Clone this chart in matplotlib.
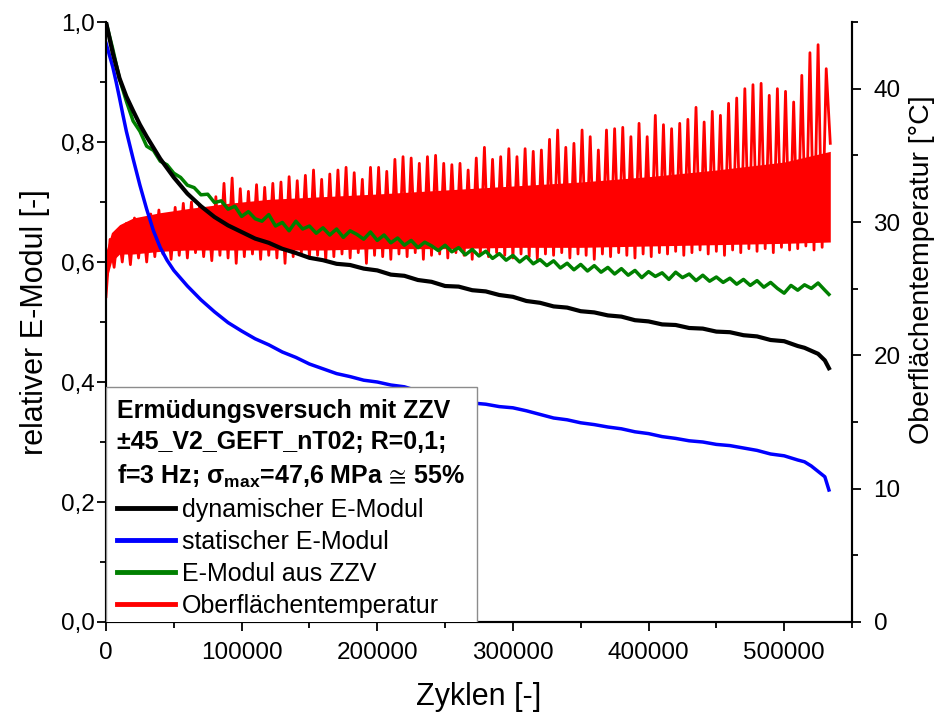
import numpy as np
import matplotlib
matplotlib.use("Agg")
import matplotlib.pyplot as plt
from matplotlib.lines import Line2D
from matplotlib.font_manager import FontProperties
from matplotlib.ticker import MultipleLocator

plt.rcParams['font.family'] = ['Liberation Sans', 'DejaVu Sans']
plt.rcParams['mathtext.fontset'] = 'custom'
plt.rcParams['mathtext.rm'] = 'Liberation Sans'
plt.rcParams['mathtext.it'] = 'Liberation Sans:italic'
plt.rcParams['mathtext.bf'] = 'Liberation Sans:bold'
plt.rcParams['mathtext.fallback'] = 'stixsans'

# ---- dynamic modulus (relative) ----
dyn_cycles = [0, 5000, 10000, 15000, 20000, 25000, 30000,
              40000, 50000, 60000, 70000, 80000, 90000, 100000, 110000, 120000,
              130000, 140000, 150000, 160000, 170000, 180000, 190000, 200000,
              210000, 220000, 230000, 240000, 250000, 260000, 270000, 280000,
              290000, 300000, 310000, 320000, 330000, 340000, 350000, 360000,
              370000, 380000, 390000, 400000, 410000, 420000, 430000, 440000,
              450000, 460000, 470000, 480000, 490000, 500000, 510000,
              515000, 520000, 525000, 530000, 533000]
dyn_modulus = [1.000, 0.948, 0.906, 0.876, 0.852, 0.829, 0.809,
               0.772, 0.741, 0.714, 0.693, 0.675, 0.661, 0.650, 0.639, 0.632,
               0.622, 0.615, 0.607, 0.603, 0.597, 0.595, 0.589, 0.586,
               0.579, 0.577, 0.570, 0.567, 0.560, 0.559, 0.553, 0.551,
               0.545, 0.542, 0.535, 0.532, 0.526, 0.524, 0.518, 0.516,
               0.511, 0.509, 0.503, 0.501, 0.496, 0.495, 0.490, 0.489,
               0.484, 0.483, 0.478, 0.476, 0.470, 0.468, 0.460,
               0.457, 0.452, 0.447, 0.436, 0.423]

# ---- static modulus (relative) ----
stat_cycles = [0, 2500, 5000, 7500, 10000, 12500, 15000, 20000, 25000, 30000,
               35000, 40000, 45000, 50000, 60000, 70000, 80000, 90000, 100000,
               110000, 120000, 130000, 140000, 150000, 160000, 170000, 180000,
               190000, 200000, 210000, 220000, 230000, 240000, 250000, 260000,
               270000, 280000, 290000, 300000, 310000, 320000, 330000, 340000,
               350000, 360000, 370000, 380000, 390000, 400000, 410000, 420000,
               430000, 440000, 450000, 460000, 470000, 480000, 490000, 500000,
               510000, 515000, 520000, 525000, 530000, 533000]
stat_modulus = [0.965, 0.945, 0.925, 0.900, 0.873, 0.845, 0.818, 0.772, 0.728, 0.688,
                0.652, 0.624, 0.603, 0.586, 0.560, 0.537, 0.517, 0.499, 0.485,
                0.472, 0.462, 0.450, 0.441, 0.430, 0.422, 0.414, 0.409,
                0.403, 0.400, 0.395, 0.392, 0.385, 0.379, 0.372, 0.369,
                0.365, 0.363, 0.359, 0.357, 0.352, 0.346, 0.340, 0.337,
                0.332, 0.329, 0.325, 0.322, 0.317, 0.314, 0.309, 0.306,
                0.302, 0.300, 0.296, 0.294, 0.290, 0.286, 0.280, 0.277,
                0.270, 0.267, 0.260, 0.251, 0.242, 0.220]

# ---- modulus from ZZV (relative), every 5000 cycles plus last point ----
zzv_cycles = list(range(0, 535000, 5000)) + [533000]
zzv_modulus = [1.000, 0.955, 0.905, 0.868, 0.835, 0.818, 0.793, 0.786, 0.768, 0.762,
               0.748, 0.741, 0.728, 0.724, 0.712, 0.713, 0.699, 0.702, 0.688, 0.693,
               0.676, 0.684, 0.672, 0.668, 0.679, 0.660, 0.666, 0.652, 0.668, 0.655,
               0.660, 0.648, 0.657, 0.645, 0.655, 0.641, 0.652, 0.646, 0.638, 0.650,
               0.636, 0.645, 0.632, 0.640, 0.628, 0.636, 0.624, 0.633, 0.627, 0.619,
               0.628, 0.617, 0.624, 0.612, 0.621, 0.610, 0.618, 0.606, 0.614, 0.603,
               0.611, 0.600, 0.609, 0.597, 0.604, 0.594, 0.602, 0.590, 0.598, 0.587,
               0.596, 0.585, 0.594, 0.583, 0.591, 0.580, 0.589, 0.578, 0.586, 0.574,
               0.584, 0.576, 0.582, 0.571, 0.583, 0.574, 0.580, 0.569, 0.578, 0.568,
               0.575, 0.566, 0.573, 0.563, 0.571, 0.561, 0.569, 0.558, 0.566, 0.556,
               0.548, 0.561, 0.553, 0.562, 0.556, 0.565, 0.553, 0.546]

# ---- surface temperature [°C]: one trough and one peak per 6000-cycle period ----
temp_period = 6000
temp_trough = [24.4, 26.6, 27.0, 26.8, 27.3, 27.0, 27.4, 27.6, 27.2, 27.5,
               27.3, 27.7, 27.4, 27.1, 27.5, 27.3, 26.9, 27.4, 27.6, 27.2,
               27.5, 27.3, 26.9, 27.4, 27.6, 27.3, 27.5, 27.1, 27.4, 27.6,
               27.3, 27.7, 26.9, 27.5, 27.4, 27.2, 27.6, 27.4, 27.7, 27.2,
               27.5, 27.6, 27.3, 27.7, 27.5, 27.2, 27.6, 27.4, 27.7, 27.5,
               27.3, 27.6, 27.4, 27.2, 27.6, 27.5, 27.7, 27.3, 27.6, 27.5,
               27.2, 27.6, 27.4, 27.7, 27.5, 27.3, 27.6, 27.4, 27.7, 27.6,
               27.8, 27.5, 27.7, 27.9, 27.6, 27.8, 27.5, 27.9, 27.7, 28.0,
               27.8, 28.0, 27.7, 28.1, 27.9, 28.0, 28.2, 27.9, 28.1]
temp_peak = [28.7, 29.4, 29.9, 30.3, 30.2, 30.6, 30.9, 30.5, 31.1, 31.4,
             31.5, 31.2, 30.9, 31.9, 32.9, 33.3, 32.5, 32.3, 32.8, 32.6,
             32.9, 33.0, 33.4, 33.1, 33.5, 33.9, 33.2, 33.6, 33.9, 34.1,
             33.7, 33.2, 34.1, 34.1, 33.8, 34.7, 34.9, 34.8, 34.4, 34.9,
             35.0, 34.4, 34.3, 34.4, 33.9, 34.8, 35.6, 34.7, 34.9, 35.5,
             34.9, 35.5, 35.3, 35.4, 36.2, 36.9, 35.6, 35.9, 36.9, 36.4,
             35.4, 36.9, 37.0, 37.1, 36.4, 37.4, 36.4, 38.0, 37.3, 37.0,
             37.4, 37.7, 38.6, 37.5, 38.3, 38.0, 38.9, 39.3, 40.0, 40.3,
             40.4, 39.5, 40.0, 39.8, 39.0, 41.0, 42.7, 43.3, 41.5]
temp_end_cycle = 534000
temp_end = 35.9

# dense core of the temperature signal
band_cycles = [0, 4000, 10000, 20000, 40000, 60000, 90000, 120000, 160000,
               200000, 250000, 300000, 350000, 400000, 450000, 500000, 534000]
band_low = [25.5, 27.0, 27.6, 27.6, 27.8, 27.9, 27.9, 27.9, 27.9,
            28.0, 28.0, 28.1, 28.1, 28.2, 28.3, 28.4, 28.5]
band_high = [27.8, 29.2, 29.8, 30.3, 30.7, 31.0, 31.4, 31.7, 31.9,
             32.1, 32.4, 32.7, 33.0, 33.4, 33.9, 34.5, 35.3]

# axis ticks
x_ticks = [0, 100000, 200000, 300000, 400000, 500000]
x_tick_labels = ['0', '100000', '200000', '300000', '400000', '500000']
y_ticks = [0.0, 0.2, 0.4, 0.6, 0.8, 1.0]
y_tick_labels = ['0,0', '0,2', '0,4', '0,6', '0,8', '1,0']
t_ticks = [0, 10, 20, 30, 40]
t_tick_labels = ['0', '10', '20', '30', '40']

series_labels = ['dynamischer E-Modul', 'statischer E-Modul',
                 'E-Modul aus ZZV', 'Oberflächentemperatur']
legend_title = ('Ermüdungsversuch mit ZZV\n'
                '±45_V2_GEFT_nT02; R=0,1;\n'
                r'f=3 Hz; σ$_{\mathbf{max}}$=47,6 MPa$\,\cong\,$55%')

RED = '#ff0000'
BLUE = '#0000ff'
GREEN = '#008000'
BLACK = '#000000'

fig = plt.figure(figsize=(9.38, 7.17), dpi=100)
ax = fig.add_axes([0.1130, 0.1325, 0.7953, 0.8368])
ax2 = ax.twinx()

# temperature on the secondary axis, drawn underneath the moduli
trough_x = np.arange(len(temp_trough)) * temp_period
peak_x = trough_x + temp_period / 2
zz_x = np.append(np.column_stack([trough_x, peak_x]).ravel(), temp_end_cycle)
zz_y = np.append(np.column_stack([temp_trough, temp_peak]).ravel(), temp_end)
ax2.fill_between(band_cycles, band_low, band_high, color=RED, lw=0)
ax2.plot(zz_x, zz_y, color=RED, lw=2.0)
ax2.set_ylim(0, 45)

ax.set_zorder(ax2.get_zorder() + 1)
ax.patch.set_visible(False)

ax.plot(stat_cycles, stat_modulus, color=BLUE, lw=2.5)
ax.plot(zzv_cycles, zzv_modulus, color=GREEN, lw=2.5)
ax.plot(dyn_cycles, dyn_modulus, color=BLACK, lw=3.0)

ax.set_xlim(0, 550000)
ax.set_ylim(0, 1.0)

ax.set_xticks(x_ticks)
ax.set_xticklabels(x_tick_labels)
ax.set_yticks(y_ticks)
ax.set_yticklabels(y_tick_labels)
ax.xaxis.set_minor_locator(MultipleLocator(50000))
ax.yaxis.set_minor_locator(MultipleLocator(0.1))
ax2.set_yticks(t_ticks)
ax2.set_yticklabels(t_tick_labels)
ax2.yaxis.set_minor_locator(MultipleLocator(5))

for a in (ax, ax2):
    a.tick_params(which='major', direction='out', length=6.5, width=1.3,
                  labelsize=17.5)
    a.tick_params(which='minor', direction='out', length=4, width=1.3)
    for s in a.spines.values():
        s.set_linewidth(1.5)
    a.spines['top'].set_visible(False)
ax.tick_params(axis='y', which='major', pad=1.5)
ax.tick_params(axis='x', which='major', pad=8)
ax2.tick_params(axis='y', which='major', pad=9)

ax.set_xlabel('Zyklen [-]', fontsize=22, labelpad=13)
ax.set_ylabel('relativer E-Modul [-]', fontsize=22, labelpad=8)
ax2.set_ylabel('Oberflächentemperatur [°C]', fontsize=20.5)
ax2.yaxis.set_label_coords(1.076, 0.587)

handles = [Line2D([], [], color=BLACK, lw=3.5),
           Line2D([], [], color=BLUE, lw=3.5),
           Line2D([], [], color=GREEN, lw=3.5),
           Line2D([], [], color=RED, lw=3.5)]
title_fp = FontProperties(family=['Liberation Sans', 'DejaVu Sans'],
                          weight='bold', size=18)
# legend box sits on the x axis; its lower edge is hidden behind the spine
leg = ax.legend(handles, series_labels, title=legend_title,
                title_fontproperties=title_fp, alignment='left',
                loc='lower left', bbox_to_anchor=(0, -0.0117), borderaxespad=0,
                fontsize=18, handlelength=2.3, handletextpad=0.3,
                labelspacing=0.32, borderpad=0.45, fancybox=False,
                framealpha=1, edgecolor='#8c8c8c')
leg.get_frame().set_linewidth(1.0)
leg.get_frame().set_clip_box(ax.bbox)
leg.get_frame().set_clip_on(True)
leg.get_title().set_linespacing(1.4)

fig.savefig('out.png', dpi=100)
